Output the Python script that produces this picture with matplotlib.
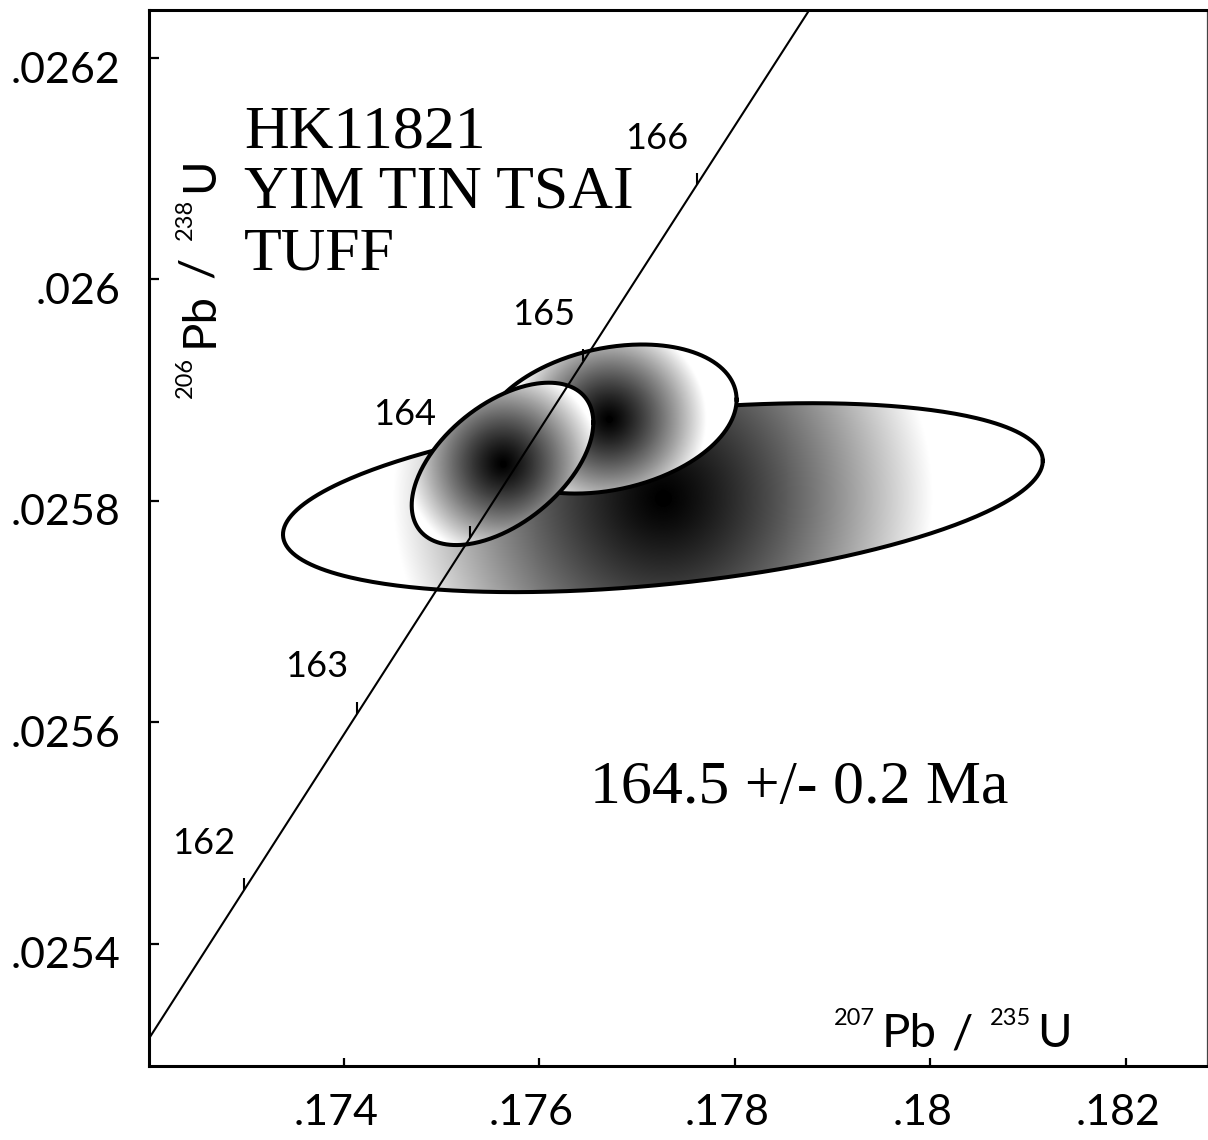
import numpy as np
import matplotlib
matplotlib.use("Agg")
import matplotlib.pyplot as plt
import matplotlib.transforms as mtransforms
from matplotlib.patches import Polygon

# U-Pb zircon fractions: 207Pb/235U, 206Pb/238U, 2-sigma errors, error correlation
pb207_u235 = [0.177263, 0.176711, 0.175622]
pb207_u235_err = [0.003887, 0.001306, 0.000929]
pb206_u238 = [0.025803, 0.025874, 0.0258335]
pb206_u238_err = [0.0000853, 0.0000673, 0.0000733]
err_corr = [0.39, 0.26, 0.51]

# Concordia age marks (Ma)
concordia_ages = [162, 163, 164, 165, 166]

x_ticks = [0.174, 0.176, 0.178, 0.180, 0.182]
x_tick_labels = [".174", ".176", ".178", ".18", ".182"]
y_ticks = [0.0254, 0.0256, 0.0258, 0.0260, 0.0262]
y_tick_labels = [".0254", ".0256", ".0258", ".026", ".0262"]

sample_lines = ["HK11821", "YIM TIN TSAI", "TUFF"]
age_result = "164.5 +/- 0.2 Ma"

# Decay constants (per year)
LAMBDA_238 = 1.55125e-10
LAMBDA_235 = 9.8485e-10

# ---------------------------------------------------------------- layout
W, H, DPI = 1208, 1140, 100
SANS = ["Lato", "DejaVu Sans"]
SERIF = ["Liberation Serif", "DejaVu Serif"]

fig = plt.figure(figsize=(W / DPI, H / DPI), dpi=DPI)
ax_l, ax_r, ax_t, ax_b = 148.5, 1207.0, 9.5, 1066.0
ax = fig.add_axes([ax_l / W, 1 - ax_b / H, (ax_r - ax_l) / W, (ax_b - ax_t) / H])
xlim = (0.1720, 0.18283)
ylim = (0.0252898, 0.0262438)
ax.set_xlim(*xlim)
ax.set_ylim(*ylim)

px_per_x = (ax_r - ax_l) / (xlim[1] - xlim[0])
px_per_y = (ax_b - ax_t) / (ylim[1] - ylim[0])


def fig_xy(px, py):
    return px / W, 1 - py / H


# ---------------------------------------------------------------- error ellipses
glow = [0.69, 0.66, 0.80]      # radius of the grey shading, relative to ellipse size
dot_size = [11.0, 3.8, 3.4]
t = np.linspace(0, 2 * np.pi, 400)
for i in range(len(pb207_u235)):
    cx, cy = pb207_u235[i], pb206_u238[i]
    sx, sy, r = pb207_u235_err[i], pb206_u238_err[i], err_corr[i]
    ex = cx + sx * np.cos(t)
    ey = cy + sy * (r * np.cos(t) + np.sqrt(1 - r ** 2) * np.sin(t))
    z = 1 + 2 * i

    nx = int(2 * sx * px_per_x) + 4
    ny = int(2 * sy * px_per_y) + 4
    gx = np.linspace(cx - sx, cx + sx, nx)
    gy = np.linspace(cy - sy, cy + sy, ny)
    GX, GY = np.meshgrid(gx, gy)
    dist = np.hypot((GX - cx) * px_per_x, (GY - cy) * px_per_y)
    radius = glow[i] * np.hypot(sx * px_per_x, sy * px_per_y)
    shade = np.clip(dist / radius, 0, 1) ** 1.3

    clip = Polygon(np.column_stack([ex, ey]), closed=True, transform=ax.transData)
    im = ax.imshow(shade, extent=(cx - sx, cx + sx, cy - sy, cy + sy), origin="lower",
                   cmap="gray", vmin=0, vmax=1, aspect="auto",
                   interpolation="bilinear", zorder=z)
    im.set_clip_path(clip)
    ax.plot(ex, ey, color="black", lw=2.9, zorder=z + 0.5, solid_joinstyle="round")
    ax.plot([cx], [cy], "o", color="black", ms=dot_size[i], zorder=z + 0.6)

ax.set_xlim(*xlim)
ax.set_ylim(*ylim)

# ---------------------------------------------------------------- concordia
ages = np.linspace(150, 175, 600) * 1e6
ax.plot(np.exp(LAMBDA_235 * ages) - 1, np.exp(LAMBDA_238 * ages) - 1,
        color="black", lw=1.5, zorder=10)

age_arr = np.array(concordia_ages) * 1e6
mx = np.exp(LAMBDA_235 * age_arr) - 1
my = np.exp(LAMBDA_238 * age_arr) - 1
ax.plot(mx, my, linestyle="none", marker=[(0, 0), (0, 1)], ms=17,
        mew=1.5, color="black", zorder=10)

label_shift_px = {164: (-66, -123)}
for a, x, y in zip(concordia_ages, mx, my):
    dxp, dyp = label_shift_px.get(a, (-40, -47))
    ax.annotate(str(a), (x, y), xytext=(dxp * 0.72, -dyp * 0.72),
                textcoords="offset points", ha="center", va="center",
                fontsize=26, family=SANS, zorder=11)

# ---------------------------------------------------------------- axes styling
for side in ["left", "bottom", "top"]:
    ax.spines[side].set_linewidth(2.2)
ax.spines["right"].set_linewidth(0.9)
ax.spines["right"].set_color("#444444")

ax.set_xticks(x_ticks)
ax.set_xticklabels(x_tick_labels)
ax.set_yticks(y_ticks)
ax.set_yticklabels(y_tick_labels)
ax.tick_params(axis="both", direction="in", width=1.6, labelsize=31)
ax.tick_params(axis="x", length=6, pad=20)
ax.tick_params(axis="y", length=7, pad=20.5)
for lab in ax.get_xticklabels() + ax.get_yticklabels():
    lab.set_family(SANS)
for lab in ax.get_xticklabels():
    lab.set_transform(lab.get_transform() +
                      mtransforms.ScaledTranslation(-8 / DPI, 0, fig.dpi_scale_trans))
for lab in ax.get_yticklabels():
    lab.set_transform(lab.get_transform() +
                      mtransforms.ScaledTranslation(0, -9 / DPI, fig.dpi_scale_trans))

# ---------------------------------------------------------------- axis titles
big, small = 34, 17
for txt, px, py, size in [("207", 834, 1025, small), ("Pb", 882, 1047, big),
                          ("/", 951, 1047, big), ("235", 990, 1025, small),
                          ("U", 1037, 1047, big)]:
    fig.text(*fig_xy(px, py), txt, fontsize=size, family=SANS,
             ha="left", va="baseline")

for txt, px, py, size in [("206", 192, 398, small), ("Pb", 213, 347, big),
                          ("/", 211, 278, big), ("238", 192, 240, small),
                          ("U", 213, 192, big)]:
    fig.text(*fig_xy(px, py), txt, fontsize=size, family=SANS,
             rotation=90, rotation_mode="anchor", ha="left", va="baseline")

# ---------------------------------------------------------------- annotations
for line, base in zip(sample_lines, [147, 208, 270]):
    fig.text(*fig_xy(244, base), line, fontsize=44.6, family=SERIF,
             ha="left", va="baseline")

fig.text(*fig_xy(590, 803), age_result, fontsize=44.6, family=SERIF,
         ha="left", va="baseline")

fig.savefig("out.png", dpi=DPI, facecolor="white")
